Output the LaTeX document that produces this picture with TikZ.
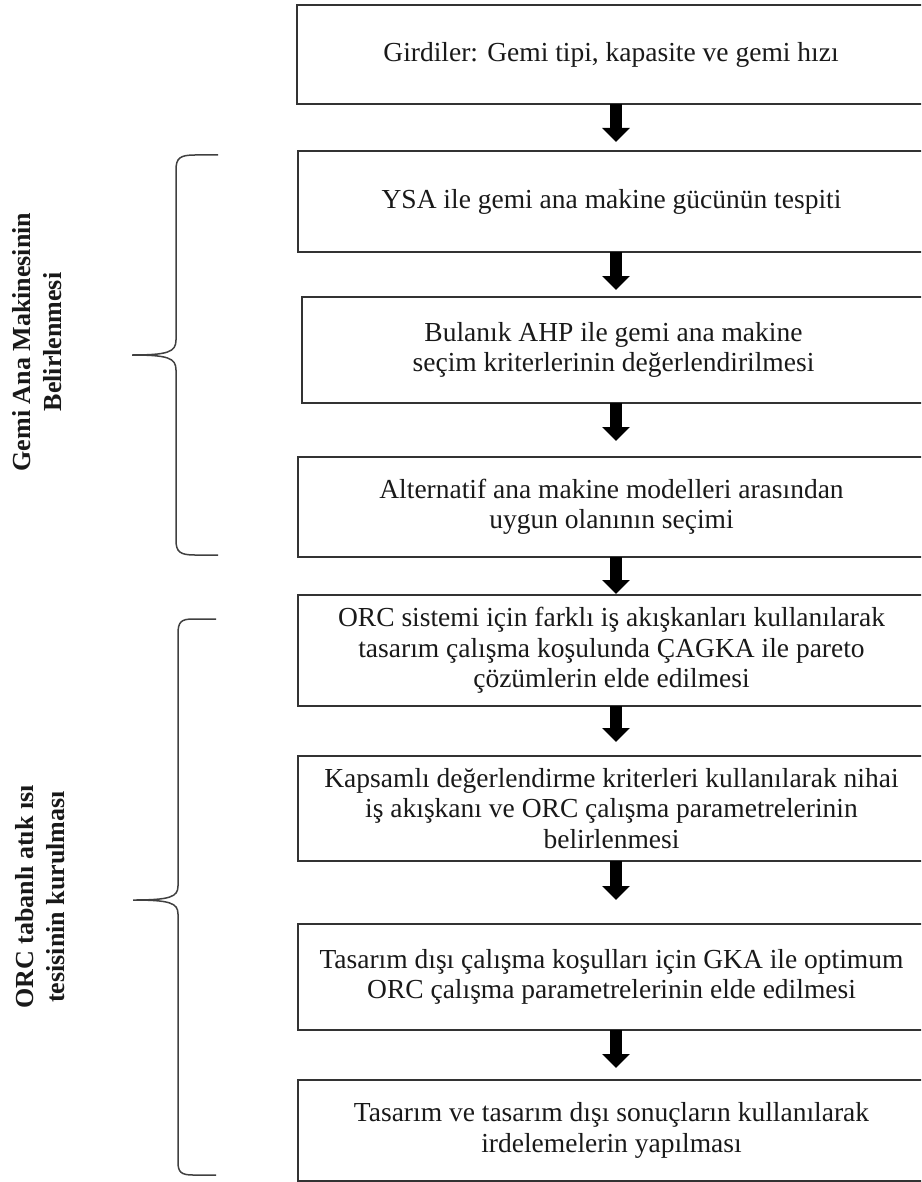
\documentclass[tikz,border=0pt]{standalone}
\usepackage{fontspec}
\setmainfont{Liberation Serif}
\usetikzlibrary{arrows.meta}
\begin{document}
\begin{tikzpicture}[x=1pt,y=-1pt,
  every node/.style={outer sep=0pt, inner sep=0pt, text=black!90},
  stepbox/.style={draw=black!80, line width=1.5pt, align=center, font=\fontsize{27.5}{30.5}\selectfont},
  flowarrow/.style={line width=12pt, -{Triangle[width=27pt,length=14pt]}},
  brace/.style={draw=black!75, line width=1.5pt},
  sidelabel/.style={rotate=90, align=center, font=\bfseries\fontsize{26}{31}\selectfont}]
\useasboundingbox (0,0) rectangle (921,1182);
\clip (0,0) rectangle (921,1182);
\node[stepbox, minimum width=628, minimum height=99] (b1) at (611,54.5) {Girdiler: Gemi tipi, kapasite ve gemi hızı};
\node[stepbox, minimum width=627, minimum height=101] (b2) at (611.5,201.5) {YSA ile gemi ana makine gücünün tespiti};
\node[stepbox, minimum width=623, minimum height=106] (b3) at (613.5,350) {Bulanık AHP ile gemi ana makine\\seçim kriterlerinin değerlendirilmesi};
\node[stepbox, minimum width=627, minimum height=100] (b4) at (611.5,507) {Alternatif ana makine modelleri arasından\\uygun olanının seçimi};
\node[stepbox, minimum width=627, minimum height=111] (b5) at (611.5,650.5) {ORC sistemi için farklı iş akışkanları kullanılarak\\tasarım çalışma koşulunda ÇAGKA ile pareto\\çözümlerin elde edilmesi};
\node[stepbox, minimum width=627, minimum height=105] (b6) at (611.5,808.5) {Kapsamlı değerlendirme kriterleri kullanılarak nihai\\iş akışkanı ve ORC çalışma parametrelerinin\\belirlenmesi};
\node[stepbox, minimum width=627, minimum height=106] (b7) at (611.5,977) {Tasarım dışı çalışma koşulları için GKA ile optimum\\ORC çalışma parametrelerinin elde edilmesi};
\node[stepbox, minimum width=627, minimum height=101] (b8) at (611.5,1130.5) {Tasarım ve tasarım dışı sonuçların kullanılarak\\irdelemelerin yapılması};
% arrows between the steps
\coordinate (ax) at (616,0);
\draw[flowarrow, shorten >=9pt] (b1.south -| ax) -- (b2.north -| ax);
\draw[flowarrow, shorten >=7pt] (b2.south -| ax) -- (b3.north -| ax);
\draw[flowarrow, shorten >=16pt] (b3.south -| ax) -- (b4.north -| ax);
\draw[flowarrow, shorten >=1pt] (b4.south -| ax) -- (b5.north -| ax);
\draw[flowarrow, shorten >=14pt] (b5.south -| ax) -- (b6.north -| ax);
\draw[flowarrow, shorten >=24pt] (b6.south -| ax) -- (b7.north -| ax);
\draw[flowarrow, shorten >=12pt] (b7.south -| ax) -- (b8.north -| ax);
% braces
\draw[brace] (218,155) -- (195,155) .. controls (180,155) and (176,158) .. (176,170)
  -- (176,340) .. controls (176,352) and (168,355) .. (132,355)
  .. controls (168,355) and (176,358) .. (176,370)
  -- (176,540) .. controls (176,552) and (180,555) .. (195,555) -- (218,555);
\draw[brace] (216,619) -- (193,619) .. controls (181,619) and (178,622) .. (178,634)
  -- (178,886) .. controls (178,897) and (170,900) .. (133,900)
  .. controls (170,900) and (178,903) .. (178,914)
  -- (178,1162) .. controls (178,1172) and (181,1175) .. (193,1175) -- (216,1175);
% side labels
\node[sidelabel] (g1) at (37,342) {Gemi Ana Makinesinin\\Belirlenmesi};
\node[sidelabel] (g2) at (40,897) {ORC tabanlı atık ısı\\tesisinin kurulması};
\end{tikzpicture}
\end{document}
